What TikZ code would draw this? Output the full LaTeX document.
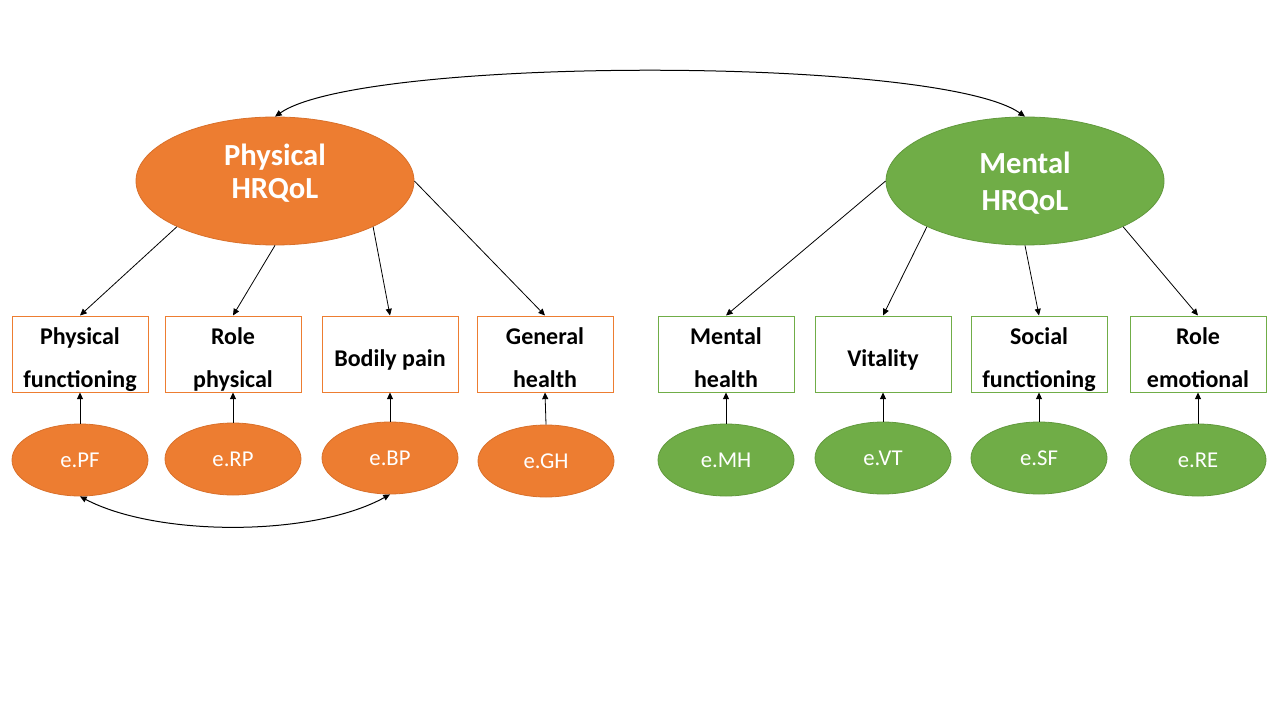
\documentclass[tikz,border=0pt]{standalone}
\usepackage{fontspec}
\setmainfont{Carlito}
\usetikzlibrary{shapes.geometric,arrows.meta}
\definecolor{org}{HTML}{ED7D31}
\definecolor{orgd}{HTML}{D9702A}
\definecolor{grn}{HTML}{70AD47}
\definecolor{grnd}{HTML}{62993D}
\tikzset{
  latent/.style={ellipse, minimum width=208.5pt, minimum height=96pt, inner sep=0pt, line width=0.6pt},
  lattext/.style={anchor=base, inner sep=0pt, text=white, font=\fontsize{23}{26}\selectfont\bfseries},
  obsbox/.style={rectangle, fill=white, minimum width=102pt, minimum height=57pt, inner sep=0pt, line width=0.75pt},
  boxtext/.style={inner sep=0pt, align=center, font=\fontsize{18}{32.5}\selectfont\bfseries},
  errell/.style={ellipse, minimum width=102pt, minimum height=54pt, inner sep=0pt, line width=0.6pt, text=white, font=\fontsize{17}{20}\selectfont},
  arr/.style={-{Triangle[length=5pt,width=4.5pt]}, line width=0.6pt, black},
  darr/.style={{Triangle[length=5pt,width=4.5pt]}-{Triangle[length=5pt,width=4.5pt]}, line width=0.75pt, black},
}
\begin{document}
\begin{tikzpicture}[x=0.75pt,y=-0.75pt]
\useasboundingbox[fill=white] (0,0) rectangle (1280,720);

% latent variables
\node[latent, fill=org, draw=orgd] (P) at (275,181) {};
\node[lattext] (pt1) at (275,166) {Physical};
\node[lattext] (pt2) at (275,199) {HRQoL};
\node[latent, fill=grn, draw=grnd] (M) at (1025,181) {};
\node[lattext] (mt1) at (1025,174) {Mental};
\node[lattext] (mt2) at (1025,211) {HRQoL};

% observed boxes
\node[obsbox, draw=org] (pf) at (80,354) {};
\node[obsbox, draw=org] (rp) at (233,354) {};
\node[obsbox, draw=org] (bp) at (390,354) {};
\node[obsbox, draw=org] (gh) at (545,354) {};
\node[obsbox, draw=grn] (mh) at (726,354) {};
\node[obsbox, draw=grn] (vt) at (883,354) {};
\node[obsbox, draw=grn] (sf) at (1039,354) {};
\node[obsbox, draw=grn] (re) at (1198,354) {};

\node[boxtext] (pft) at (80,359.5) {Physical\\functioning\vphantom{g}};
\node[boxtext] (rpt) at (233,359.5) {Role\\physical\vphantom{g}};
\node[boxtext] (bpt) at (390,359.5) {Bodily pain};
\node[boxtext] (ght) at (545,359.5) {General\\health\vphantom{g}};
\node[boxtext] (mht) at (726,359.5) {Mental\\health\vphantom{g}};
\node[boxtext] (vtt) at (883,359.5) {Vitality};
\node[boxtext] (sft) at (1039,359.5) {Social\\functioning\vphantom{g}};
\node[boxtext] (ret) at (1198,359.5) {Role\\emotional\vphantom{g}};

% error terms
\node[errell, fill=org, draw=orgd] (epf) at (80,460) {e.PF};
\node[errell, fill=org, draw=orgd] (erp) at (233,459) {e.RP};
\node[errell, fill=org, draw=orgd] (ebp) at (390,458) {e.BP};
\node[errell, fill=org, draw=orgd] (egh) at (546,461) {e.GH};
\node[errell, fill=grn, draw=grnd] (emh) at (726,460) {e.MH};
\node[errell, fill=grn, draw=grnd] (evt) at (883,458) {e.VT};
\node[errell, fill=grn, draw=grnd] (esf) at (1039,458) {e.SF};
\node[errell, fill=grn, draw=grnd] (ere) at (1198,460) {e.RE};

% loadings
\draw[arr] (P.205) -- (pf.north);
\draw[arr] (P.south) -- (rp.north);
\draw[arr] (P.335) -- (bp.north);
\draw[arr] (P.east) -- (gh.north);
\draw[arr] (M.west) -- (mh.north);
\draw[arr] (M.205) -- (vt.north);
\draw[arr] (M.south) -- (sf.north);
\draw[arr] (M.335) -- (re.north);

% error arrows
\draw[arr] (epf.north) -- (pf.south);
\draw[arr] (erp.north) -- (rp.south);
\draw[arr] (ebp.north) -- (bp.south);
\draw[arr] (egh.north) -- (gh.south);
\draw[arr] (emh.north) -- (mh.south);
\draw[arr] (evt.north) -- (vt.south);
\draw[arr] (esf.north) -- (sf.south);
\draw[arr] (ere.north) -- (re.south);

% covariances
\draw[darr] (P.north) .. controls (362,56) and (938,56) .. (M.north);
\draw[darr] (epf.south) .. controls (157,537) and (313,537) .. (ebp.south);
\end{tikzpicture}
\end{document}
